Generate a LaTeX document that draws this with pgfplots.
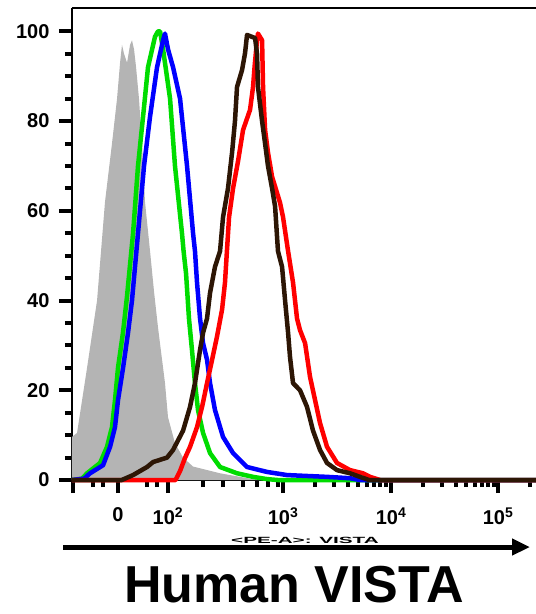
\documentclass[border=0pt]{standalone}
\usepackage{fontspec}
\setmainfont{Liberation Sans}
\usepackage{pgfplots}
\pgfplotsset{compat=1.18}
\usetikzlibrary{arrows.meta}

\definecolor{isogray}{RGB}{180,180,180}
\definecolor{hgreen}{RGB}{0,220,0}
\definecolor{hblue}{RGB}{0,0,255}
\definecolor{hred}{RGB}{255,0,0}
\definecolor{hbrown}{RGB}{45,22,5}

\begin{document}
\begin{tikzpicture}
\useasboundingbox (0pt,0pt) rectangle (536pt,-614pt);
\begin{axis}[
    at={(72pt,-8pt)}, anchor=north west,
    width=464pt, height=472pt, scale only axis,
    xmin=1.037, xmax=5.353,
    ymin=0, ymax=105.2,
    clip=false,
    axis x line*=bottom, axis y line*=left,
    axis line style={line width=2pt, black},
    tick align=outside,
    major tick length=13pt, minor tick length=7pt,
    every tick/.style={line width=4pt, black},
    every major tick/.append style={line width=4pt, black},
    every minor tick/.append style={line width=4pt, black},
    xtick={1.047,1.465,1.930,3,4.005,5.0},
    xticklabels={{},0,10\textsuperscript{2},10\textsuperscript{3},10\textsuperscript{4},10\textsuperscript{5}},
    minor xtick={1.233,1.326,1.735,1.828,2.256,2.442,2.628,2.758,2.860,2.953,
                 3.301,3.477,3.602,3.699,3.778,3.845,3.903,3.954,
                 4.306,4.482,4.607,4.704,4.783,4.850,4.908,4.959,5.301},
    ytick={0,20,40,60,80,100},
    minor y tick num=3,
    /pgf/number format/assume math mode=true,
    tick label style={font=\bfseries\fontsize{20}{20}\selectfont},
    xticklabel style={yshift=-11pt},
    yticklabel style={xshift=-6pt},
    no markers,
    every axis plot/.append style={line join=round},
]
% isotype control (filled)
\addplot[draw=none, fill=isogray] coordinates {
 (1.037,9.6) (1.084,10.5) (1.177,25) (1.270,40) (1.344,62) (1.409,75)
 (1.456,85) (1.484,93) (1.502,97) (1.521,95) (1.549,93) (1.577,97)
 (1.595,98) (1.614,96) (1.633,92) (1.660,85) (1.688,75) (1.716,62)
 (1.763,51) (1.800,42) (1.837,34) (1.902,21.6) (1.930,14) (1.995,8.2)
 (2.070,5) (2.163,3) (2.414,1.5) (2.693,0.3) (2.879,0)
} \closedcycle;
% green
\addplot[hgreen, line width=4.5pt] coordinates {
 (1.037,0) (1.130,0.3) (1.177,1.5) (1.298,3.8) (1.363,7.4) (1.409,11.8)
 (1.437,17.8) (1.465,25) (1.512,33) (1.549,41) (1.605,55) (1.651,70)
 (1.698,81) (1.744,92) (1.809,98.8) (1.837,100) (1.856,100) (1.884,96)
 (1.949,85) (1.995,70) (2.060,55) (2.075,51) (2.098,46) (2.125,36)
 (2.153,29) (2.181,21.6) (2.209,15.6) (2.256,10.5) (2.321,6) (2.414,2.9)
 (2.572,1.5) (2.721,0.7) (2.851,0.2) (2.950,0) (5.353,0)
};
% blue
\addplot[hblue, line width=4.5pt] coordinates {
 (1.037,0) (1.150,0.3) (1.205,1.5) (1.326,3.3) (1.391,7.4) (1.437,11.8)
 (1.465,17.8) (1.512,25) (1.558,32.8) (1.595,40) (1.651,55) (1.707,70)
 (1.763,81) (1.828,92) (1.884,98) (1.902,99.5) (1.930,96) (1.977,92)
 (2.042,85) (2.107,70) (2.163,55) (2.181,51) (2.200,44) (2.228,36)
 (2.256,30.5) (2.293,26.8) (2.321,21.6) (2.367,15.6) (2.442,9.6)
 (2.535,6) (2.665,2.9) (2.851,1.8) (3.037,1.1) (3.409,0.7) (3.623,0.4)
 (3.716,0) (5.353,0)
};
% red
\addplot[hred, line width=4.5pt] coordinates {
 (1.037,0) (2.000,0) (2.042,2) (2.088,4.9) (2.135,7.4) (2.200,11.8)
 (2.247,16.3) (2.293,21.6) (2.340,26.8) (2.386,32) (2.433,38) (2.460,44)
 (2.478,51) (2.498,58.6) (2.535,65) (2.581,71) (2.628,78) (2.693,82.5)
 (2.721,87.6) (2.735,92) (2.758,98) (2.767,99.5) (2.805,98) (2.814,87.6)
 (2.833,78) (2.860,73) (2.898,67.6) (2.944,64) (2.972,61.8) (3.000,58.6)
 (3.047,51) (3.093,44) (3.130,36) (3.158,33.4) (3.205,30.5) (3.251,23)
 (3.298,17.8) (3.344,12.7) (3.409,7.4) (3.502,3.8) (3.623,2.2)
 (3.744,1.5) (3.809,0.7) (3.902,0) (5.353,0)
};
% dark brown
\addplot[hbrown, line width=4.5pt] coordinates {
 (1.037,0) (1.500,0) (1.605,1.1) (1.735,2.9) (1.791,4) (1.856,4.5)
 (1.921,5) (1.977,6.7) (2.070,11) (2.135,16.3) (2.181,21.6) (2.228,29)
 (2.256,32.8) (2.293,36) (2.321,41.7) (2.367,47.5) (2.414,51)
 (2.442,58.6) (2.488,65) (2.526,73) (2.553,80) (2.572,87.6) (2.619,91.4)
 (2.647,95.2) (2.665,99.2) (2.740,98.5) (2.758,95) (2.767,87.6)
 (2.805,80) (2.833,75) (2.860,70) (2.898,65) (2.926,61) (2.953,51)
 (2.991,47.5) (3.019,40) (3.047,32.8) (3.065,27.4) (3.093,21.6)
 (3.158,20) (3.223,16.3) (3.279,11) (3.344,6.7) (3.409,3.8) (3.502,2.2)
 (3.623,1.5) (3.716,0.7) (3.800,0) (5.353,0)
};
\draw[line width=2pt, black] (rel axis cs:0,1) -- (rel axis cs:1,1);
\end{axis}
\node[font=\bfseries\fontsize{9}{9}\selectfont, xscale=2.3] at (305pt,-540pt) {<PE-A>: VISTA};
\draw[line width=5pt, -{Triangle[length=18pt,width=16pt]}] (63pt,-547pt) -- (530pt,-547pt);
\node[font=\bfseries\fontsize{52}{52}\selectfont, anchor=base] at (294pt,-602pt) {Human VISTA};
\end{tikzpicture}
\end{document}
